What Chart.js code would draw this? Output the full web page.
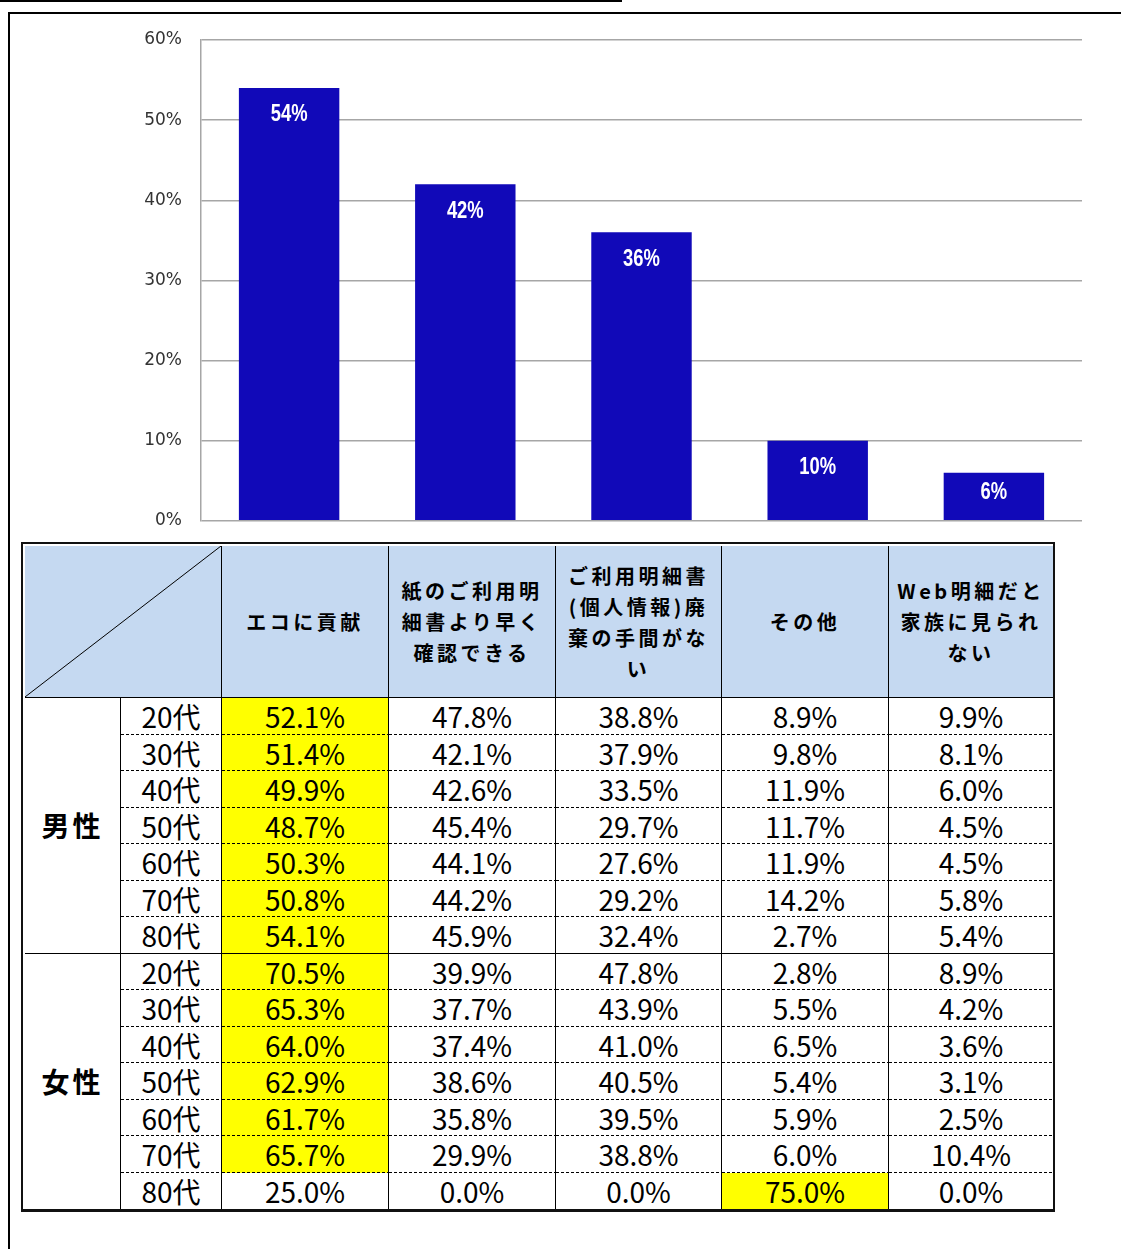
<!DOCTYPE html>
<html lang="ja">
<head>
<meta charset="utf-8">
<script src="https://cdn.jsdelivr.net/npm/chart.js@4.4.1/dist/chart.umd.min.js"></script>
<style>
  html, body { margin: 0; padding: 0; background: #fff; }
  body { width: 1121px; height: 1249px; position: relative; overflow: hidden; }
  #topline { position: absolute; left: 0; top: 0; width: 622px; border-top: 2px solid #000; }
  #frame { position: absolute; left: 8px; top: 12px; width: 1200px; height: 1300px;
           border-left: 2px solid #000; border-top: 2px solid #000; }
  #chartBox { position: absolute; left: 0; top: 0; width: 1121px; height: 550px; }
  #tableBox { position: absolute; left: 21px; top: 542px; background: #fff;
              border: 2px solid #111; border-bottom-width: 3px; padding: 2px 0 0 2px; }
  #tbl { border-collapse: separate; border-spacing: 0; table-layout: fixed; width: 1028px;
         font-family: "Noto Sans CJK JP", sans-serif; color: #000; }
  #tbl td { box-sizing: border-box; padding: 0; text-align: center; vertical-align: middle; }
  #tbl tr.head td { height: 152px; background: #c5d9f1; font-weight: bold; font-size: 20px;
                    letter-spacing: 3.5px; line-height: 31px; white-space: pre-line;
                    border-right: 1px solid #000; border-bottom: 1px solid #000; }
  #tbl tr.head td.corner {
    background: linear-gradient(to bottom right, transparent calc(50% - 0.8px), #000 50%, transparent calc(50% + 0.8px)), #c5d9f1;
  }
  #tbl tr.data td { height: 36.5px; font-size: 28px; line-height: 28px; border-right: 1px solid #000; }
  #tbl td.last { border-right: none !important; }
  #tbl td.dash {
    background-image: repeating-linear-gradient(90deg, #000 0 3px, transparent 3px 5px);
    background-size: 100% 1px; background-position: left bottom; background-repeat: no-repeat;
  }
  #tbl td.solid { border-bottom: 1px solid #000; }
  #tbl td.gender { font-weight: bold; font-size: 28px; letter-spacing: 3px; }
  #tbl td.hi { background-color: #ffff00; }
</style>
</head>
<body>
<div id="topline"></div>
<div id="frame"></div>
<div id="chartBox"><canvas id="chart"></canvas></div>
<div id="tableBox"><table id="tbl"></table></div>

<script>
// reasons (header labels, broken into lines as printed)
const reasons = [
  "エコに貢献",
  "紙のご利用明\n細書より早く\n確認できる",
  "ご利用明細書\n(個人情報)廃\n棄の手間がな\nい",
  "その他",
  "Web明細だと\n家族に見られ\nない"
];
// overall share per reason (%)
const overall = [54, 42, 36, 10, 6];
const yTicks = [0, 10, 20, 30, 40, 50, 60];

const genders = ["男性", "女性"];
const ages = ["20代", "30代", "40代", "50代", "60代", "70代", "80代"];

// rows = ages, columns = reasons
const male = [
  [52.1, 47.8, 38.8,  8.9, 9.9],
  [51.4, 42.1, 37.9,  9.8, 8.1],
  [49.9, 42.6, 33.5, 11.9, 6.0],
  [48.7, 45.4, 29.7, 11.7, 4.5],
  [50.3, 44.1, 27.6, 11.9, 4.5],
  [50.8, 44.2, 29.2, 14.2, 5.8],
  [54.1, 45.9, 32.4,  2.7, 5.4]
];
const female = [
  [70.5, 39.9, 47.8,  2.8,  8.9],
  [65.3, 37.7, 43.9,  5.5,  4.2],
  [64.0, 37.4, 41.0,  6.5,  3.6],
  [62.9, 38.6, 40.5,  5.4,  3.1],
  [61.7, 35.8, 39.5,  5.9,  2.5],
  [65.7, 29.9, 38.8,  6.0, 10.4],
  [25.0,  0.0,  0.0, 75.0,  0.0]
];

// --- bar chart ---
// value labels inside the top of each bar, squeezed a little horizontally
const barLabels = {
  id: "barLabels",
  afterDatasetsDraw(chart) {
    const ctx = chart.ctx;
    const meta = chart.getDatasetMeta(0);
    meta.data.forEach((bar, i) => {
      const h = bar.base - bar.y;
      const off = Math.min(27, h / 2 - 4);
      ctx.save();
      ctx.translate(bar.x, bar.y + off);
      ctx.scale(0.8, 1);
      ctx.fillStyle = "#fff";
      ctx.font = "bold 23px 'Liberation Sans', sans-serif";
      ctx.textAlign = "center";
      ctx.textBaseline = "middle";
      ctx.fillText(overall[i] + "%", 0, 0);
      ctx.restore();
    });
  }
};

new Chart(document.getElementById("chart"), {
  type: "bar",
  data: {
    labels: reasons.map(r => r.replace(/\n/g, "")),
    datasets: [{
      data: overall,
      backgroundColor: "#1109b8",
      borderWidth: 0,
      barPercentage: 0.57,
      categoryPercentage: 1
    }]
  },
  options: {
    responsive: true,
    maintainAspectRatio: false,
    animation: false,
    layout: { padding: { left: 0, right: 39, top: 40, bottom: 0 } },
    plugins: { legend: { display: false }, tooltip: { enabled: false } },
    scales: {
      x: { display: false },
      y: {
        min: yTicks[0],
        max: yTicks[yTicks.length - 1],
        afterBuildTicks: s => { s.ticks = yTicks.map(v => ({ value: v })); },
        afterFit: s => { s.width = 201; },
        grid: { color: "#a6a6a6", lineWidth: 1.5, drawTicks: false },
        border: { color: "#a6a6a6", width: 1.5 },
        ticks: {
          padding: 19,
          color: "#333",
          font: { family: "'DejaVu Sans', sans-serif", size: 17 },
          callback: v => v + "%"
        }
      }
    }
  },
  plugins: [barLabels]
});

// --- breakdown table ---
const tbl = document.getElementById("tbl");
const widths = [96, 101, 167, 167, 166, 167, 164];
const cg = document.createElement("colgroup");
widths.forEach(w => {
  const c = document.createElement("col");
  c.style.width = w + "px";
  cg.appendChild(c);
});
tbl.appendChild(cg);

const head = tbl.insertRow();
head.className = "head";
const corner = head.insertCell();
corner.colSpan = 2;
corner.className = "corner";
reasons.forEach((r, j) => {
  const td = head.insertCell();
  td.textContent = r;
  if (j === reasons.length - 1) td.classList.add("last");
});

[male, female].forEach((rows, g) => {
  const lastGroup = g === genders.length - 1;
  rows.forEach((vals, i) => {
    const tr = tbl.insertRow();
    tr.className = "data";
    const endOfGroup = i === rows.length - 1;
    const line = endOfGroup ? (lastGroup ? "" : "solid") : "dash";
    if (i === 0) {
      const gtd = tr.insertCell();
      gtd.rowSpan = rows.length;
      gtd.className = "gender" + (lastGroup ? "" : " solid");
      gtd.textContent = genders[g];
    }
    const atd = tr.insertCell();
    atd.textContent = ages[i];
    if (line) atd.classList.add(line);
    const top = Math.max(...vals);
    vals.forEach((v, j) => {
      const td = tr.insertCell();
      td.textContent = v.toFixed(1) + "%";
      if (line) td.classList.add(line);
      if (v === top) td.classList.add("hi");
      if (j === vals.length - 1) td.classList.add("last");
    });
  });
});
</script>
</body>
</html>
